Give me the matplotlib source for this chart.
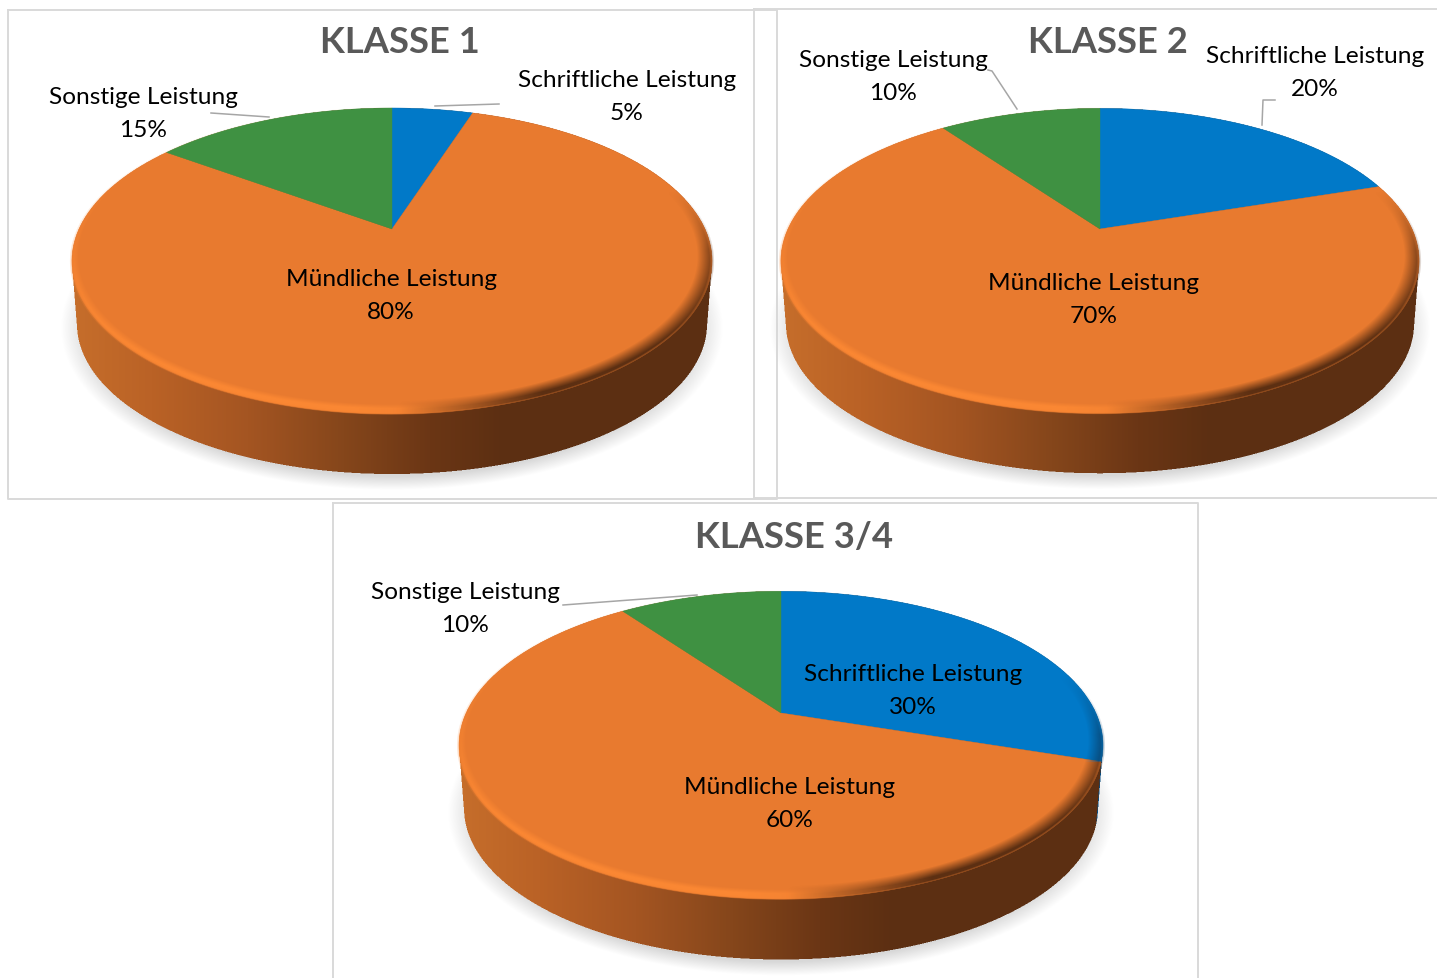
import numpy as np
import matplotlib
matplotlib.use("Agg")
import matplotlib.pyplot as plt
from matplotlib.colors import to_rgb

plt.rcParams["font.family"] = ["Lato", "DejaVu Sans"]

# Daten
kategorien = ["Schriftliche Leistung", "Mündliche Leistung", "Sonstige Leistung"]
titel = ["KLASSE 1", "KLASSE 2", "KLASSE 3/4"]
klasse_1 = [5, 80, 15]
klasse_2 = [20, 70, 10]
klasse_34 = [30, 60, 10]
farben = ["#0179c8", "#e87a2f", "#3f9142"]

# Layout in Pixeln
W, H = 1437, 979
K = 0.209  # Perspektive


def projiziere(theta, cx, ay, s):
    u, v = np.sin(theta), np.cos(theta)
    w = 1 + K * v
    return cx + s * 313 * u / w, ay - s * 146.3 * v / w


def koerper(cx, ay, s, grenze):
    # Schatten und Seitenwand, 2x gerechnet und dann gemittelt
    a, b = 320 * s, 153 * s
    ey = ay + 32 * s
    x0, x1 = int(cx - a - 30), int(cx + a + 30)
    y0, y1 = int(ey - b - 10), int(ey + b + 100)
    xs = (np.arange((x1 - x0) * 2) + 0.5) / 2 + x0
    ys = (np.arange((y1 - y0) * 2) + 0.5) / 2 + y0
    X, Y = np.meshgrid(xs, ys)

    # Schatten
    r = np.sqrt(((X - cx) / (a + 11)) ** 2 + ((Y - (ey + 67 * s)) / (b + 9)) ** 2)
    sch = np.clip((1.0 - r) / 0.085, 0, 1) * 0.95
    rgb = np.ones(X.shape + (3,)) * 0.84
    alpha = sch.copy()

    # Seitenwand
    seite = np.zeros(X.shape, bool)
    for t in np.linspace(0, 1, 50):
        seite |= ((X - cx) / (a - 5 * t)) ** 2 + ((Y - (ey + 63 * s * t)) / (b - 3 * t)) ** 2 <= 1
    tx = (X - cx) / a
    stuetz = [-1.0, -0.75, -0.45, -0.15, 0.12, 0.35, 1.0]
    cols = np.array([to_rgb(c) for c in ["#c66e2b", "#ba6226", "#a45522", "#85461b", "#6b3615", "#5c2f12", "#5c2f12"]])
    for i in range(3):
        rgb[..., i] = np.where(seite, np.interp(tx, stuetz, cols[:, i]), rgb[..., i])
    alpha = np.where(seite, 1.0, alpha)

    # blaue Seitenwand, wenn die Grenze vorne liegt
    bx, by = projiziere(grenze, cx, ay, s)
    if by > ey:
        blau = seite & (X > bx - (Y - by) * 0.08) & (Y > by - 3)
        rgb[blau] = to_rgb("#0a4c7e")

    bild = np.dstack([rgb * alpha[..., None], alpha])
    bild = (bild[::2, ::2] + bild[1::2, ::2] + bild[::2, 1::2] + bild[1::2, 1::2]) / 4
    a_neu = np.maximum(bild[..., 3:], 1e-4)
    bild = np.dstack([np.clip(bild[..., :3] / a_neu, 0, 1), bild[..., 3]])
    return bild, (x0, x1, y1, y0)


def kante(cx, ay, s, grenze):
    # Fase am Rand der Deckflaeche: links hell, rechts dunkel
    a, b = 320 * s, 153 * s
    ey = ay + 32 * s
    x0, x1 = int(cx - a - 4), int(cx + a + 4)
    y0, y1 = int(ey - b - 4), int(ey + b + 4)
    xs = np.arange(x0, x1) + 0.5
    ys = np.arange(y0, y1) + 0.5
    X, Y = np.meshgrid(xs, ys)
    aussen = np.sqrt(((X - cx) / a) ** 2 + ((Y - ey) / b) ** 2)
    innen = np.sqrt(((X - cx) / (a - 7)) ** 2 + ((Y - (ey - 5)) / (b - 5)) ** 2)
    rand = np.clip((1.008 - aussen) / 0.016, 0, 1)
    tx = (X - cx) / a
    hell = np.clip((innen - 1) / 0.03, 0, 1) * np.clip((0.35 - tx) / 0.45, 0, 1)
    dunkel = np.clip((innen - 0.975) / 0.06, 0, 1) * np.clip((tx - 0.02) / 0.45, 0, 1)
    dunkel = dunkel * np.clip((Y - (ey - 70)) / 60, 0, 1)

    hell_rgb = np.array(to_rgb("#fb8733"))
    dunkel_rgb = np.ones(X.shape + (3,)) * np.array(to_rgb("#5c2f12"))
    _, by = projiziere(grenze, cx, ay, s)
    dunkel_rgb[(Y < by) & (X > cx)] = to_rgb("#0a3f69")
    summe = np.maximum(hell + dunkel, 1e-4)[..., None]
    rgb = (hell[..., None] * hell_rgb + dunkel[..., None] * dunkel_rgb) / summe
    al = np.clip(hell + dunkel, 0, 1) * rand
    return np.dstack([rgb, al]), (x0, x1, y1, y0)


def torte(ax, werte, cx, ay, s):
    werte = np.array(werte, dtype=float)
    winkel = np.concatenate([[0], np.cumsum(werte) / werte.sum()]) * 2 * np.pi
    bild, ext = koerper(cx, ay, s, winkel[1])
    ax.imshow(bild, extent=ext, zorder=1, interpolation="nearest", aspect="auto")
    for i in range(len(werte)):
        th = np.linspace(winkel[i], winkel[i + 1], 200)
        px, py = projiziere(th, cx, ay, s)
        ax.fill(np.r_[cx, px], np.r_[ay, py], color=farben[i], lw=0.3, zorder=2)
    bild, ext = kante(cx, ay, s, winkel[1])
    ax.imshow(bild, extent=ext, zorder=3, interpolation="bilinear", aspect="auto")


def beschriftung(ax, name, wert, x, y):
    ax.text(x, y + 8.4, name, ha="center", va="baseline", fontsize=17.6, color="black", zorder=6)
    ax.text(x, y + 41.4, f"{wert}%", ha="center", va="baseline", fontsize=17.6, color="black", zorder=6)


fig = plt.figure(figsize=(W / 100, H / 100), dpi=100)
ax = fig.add_axes([0, 0, 1, 1])

# Rahmen
rahmen = [(8, 777, 11, 500), (754, 1445, 10, 499), (333, 1198, 504, 990)]
for x0, x1, y0, y1 in rahmen:
    ax.plot([x0, x1, x1, x0, x0], [y0, y0, y1, y1, y0], color="#d9d9d9", lw=1.4, zorder=0)

torte(ax, klasse_1, 392, 230, 1.0)
torte(ax, klasse_2, 1100, 230, 0.997)
torte(ax, klasse_34, 781, 714, 1.006)

# Titel
for t, (x, y) in zip(titel, [(400, 53), (1108, 53), (794, 548)]):
    ax.text(x, y, t, ha="center", va="baseline", fontsize=26.2, fontweight="bold", color="#595959", zorder=6)

# Beschriftungen
for wert, name, pos in zip(klasse_1, kategorien, [(627, 79), (391, 278), (143, 96)]):
    beschriftung(ax, name, wert, *pos)
for wert, name, pos in zip(klasse_2, kategorien, [(1315, 55), (1094, 282), (893, 59)]):
    beschriftung(ax, name, wert, *pos)
for wert, name, pos in zip(klasse_34, kategorien, [(913, 673), (790, 786), (465, 591)]):
    beschriftung(ax, name, wert, *pos)

# Fuehrungslinien
fuehrung = [
    [(435, 107), (499, 105)],
    [(211, 114), (269, 118)],
    [(988, 71), (992, 72), (1017, 110)],
    [(1275, 101), (1263, 101), (1262, 126)],
    [(563, 606), (697, 596)],
]
for linie in fuehrung:
    lx, ly = zip(*linie)
    ax.plot(lx, ly, color="#a6a6a6", lw=1.1, zorder=5)

ax.set_xlim(0, W)
ax.set_ylim(H, 0)
ax.axis("off")

fig.savefig("out.png", dpi=100, facecolor="white")
